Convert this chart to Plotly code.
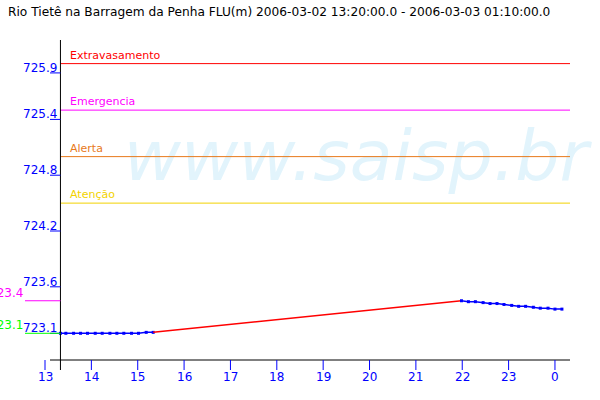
import math
import plotly.graph_objects as go

# ---------------- data ----------------
title_text = "Rio Tietê na Barragem da Penha FLU(m) 2006-03-02 13:20:00.0 - 2006-03-03 01:10:00.0"

obs1_times = ["13:20", "13:27", "13:37", "13:46", "13:55", "14:05", "14:14",
              "14:24", "14:33", "14:42", "14:52", "15:01", "15:11", "15:20"]
obs1_values = [723.10, 723.10, 723.10, 723.10, 723.10, 723.10, 723.10,
               723.10, 723.10, 723.10, 723.10, 723.10, 723.11, 723.11]

est_times = ["15:20", "21:59"]
est_values = [723.11, 723.45]

obs2_times = ["21:59", "22:08", "22:17", "22:27", "22:36", "22:45", "22:54", "23:04",
              "23:13", "23:22", "23:32", "23:41", "23:51", "00:00", "00:09"]
obs2_values = [723.45, 723.44, 723.44, 723.43, 723.42, 723.42, 723.41, 723.40,
               723.39, 723.39, 723.38, 723.37, 723.37, 723.36, 723.36]

threshold_names = ["Extravasamento", "Emergencia", "Alerta", "Atenção"]
threshold_values = [726.0, 725.5, 725.0, 724.5]
threshold_colors = ["#ff0000", "#ff00ff", "#e87a1c", "#f2d200"]

y_tick_values = [725.9, 725.4, 724.8, 724.2, 723.6, 723.1]
x_tick_hours = [13, 14, 15, 16, 17, 18, 19, 20, 21, 22, 23, 24]
x_tick_labels = ["13", "14", "15", "16", "17", "18", "19", "20", "21", "22", "23", "0"]

watermark = "www.saisp.br"

# ---------------- helpers ----------------
def to_hours(t):
    h, m = t.split(":")
    v = int(h) + int(m) / 60.0
    if v < 12:
        v += 24
    return v

W, H = 600, 400
X_RANGE = [12.0293, 24.9715]
Y_RANGE = [722.3828, 726.684]

def px_x(p):
    return X_RANGE[0] + p / W * (X_RANGE[1] - X_RANGE[0])

def px_y(p):
    return Y_RANGE[1] - p / H * (Y_RANGE[1] - Y_RANGE[0])

FONT = "DejaVu Sans"
BLUE = "#0000ff"

all_values = obs1_values + est_values + obs2_values
x_start = to_hours(obs1_times[0])
vmax = max(all_values)
vmin = min(all_values)

fig = go.Figure()

# watermark (behind everything)
fig.add_trace(go.Scatter(
    x=[px_x(356)], y=[px_y(162)], mode="text", text=[watermark],
    textfont=dict(family=FONT, size=70, color="#e2f4fc", style="italic"),
    hoverinfo="skip"))

# observed (blue) + estimated (red)
fig.add_trace(go.Scatter(
    x=[to_hours(t) for t in obs1_times], y=obs1_values, mode="lines+markers",
    line=dict(color=BLUE, width=1.5),
    marker=dict(symbol="square", size=3, color=BLUE, line=dict(width=0)),
    hoverinfo="skip"))
fig.add_trace(go.Scatter(
    x=[to_hours(t) for t in est_times], y=est_values, mode="lines",
    line=dict(color="#ff0000", width=1.5), hoverinfo="skip"))
fig.add_trace(go.Scatter(
    x=[to_hours(t) for t in obs2_times], y=obs2_values, mode="lines+markers",
    line=dict(color=BLUE, width=1.5),
    marker=dict(symbol="square", size=3, color=BLUE, line=dict(width=0)),
    hoverinfo="skip"))

shapes = []
annotations = []

x_end = px_x(570)
# threshold lines
for name, val, col in zip(threshold_names, threshold_values, threshold_colors):
    shapes.append(dict(type="line", x0=x_start, x1=x_end, y0=val, y1=val,
                       line=dict(color=col, width=1)))
    annotations.append(dict(x=x_start, y=val, xanchor="left", yanchor="bottom",
                            xshift=8, yshift=0, text=name, showarrow=False,
                            font=dict(family=FONT, size=11, color=col)))

# axes
shapes.append(dict(type="line", x0=x_start, x1=x_start, y0=px_y(370), y1=px_y(40),
                   line=dict(color="black", width=1)))
shapes.append(dict(type="line", x0=px_x(50), x1=x_end, y0=px_y(360), y1=px_y(360),
                   line=dict(color="black", width=1)))

# x ticks
for h, lab in zip(x_tick_hours, x_tick_labels):
    shapes.append(dict(type="line", x0=h, x1=h, y0=px_y(360), y1=px_y(370),
                       line=dict(color=BLUE, width=1)))
    annotations.append(dict(x=h, y=px_y(368), xanchor="center", yanchor="top",
                            text=lab, showarrow=False,
                            font=dict(family=FONT, size=12, color=BLUE)))

# y ticks
for v in y_tick_values:
    shapes.append(dict(type="line", x0=px_x(50), x1=x_start, y0=v, y1=v,
                       line=dict(color=BLUE, width=1)))
    annotations.append(dict(x=x_start, y=v, xanchor="right", yanchor="bottom",
                            xshift=-1, yshift=-4, text=f"{v:.1f}", showarrow=False,
                            font=dict(family=FONT, size=12, color=BLUE)))

# max / min markers
for val, col in [(vmax, "#ff00ff"), (vmin, "#00ff00")]:
    shapes.append(dict(type="line", x0=px_x(25), x1=x_start, y0=val, y1=val,
                       line=dict(color=col, width=1)))
    annotations.append(dict(x=px_x(25), y=val, xanchor="right", yanchor="bottom",
                            yshift=-1, text=f"{math.floor(val * 10 + 1e-9) / 10:.1f}",
                            showarrow=False,
                            font=dict(family=FONT, size=12, color=col)))

# title
annotations.append(dict(xref="paper", yref="paper", x=6 / W, y=1 - 12 / H,
                        xanchor="left", yanchor="middle", text=title_text,
                        showarrow=False, font=dict(family=FONT, size=12.2, color="black")))

fig.update_layout(
    width=W, height=H, autosize=False,
    margin=dict(l=0, r=0, t=0, b=0, pad=0),
    paper_bgcolor="white", plot_bgcolor="white",
    showlegend=False,
    xaxis=dict(visible=False, range=X_RANGE, fixedrange=True),
    yaxis=dict(visible=False, range=Y_RANGE, fixedrange=True),
    shapes=shapes, annotations=annotations,
)

fig.write_html("out.html", config={"displayModeBar": False},
               post_script="document.body.style.margin='0';")
